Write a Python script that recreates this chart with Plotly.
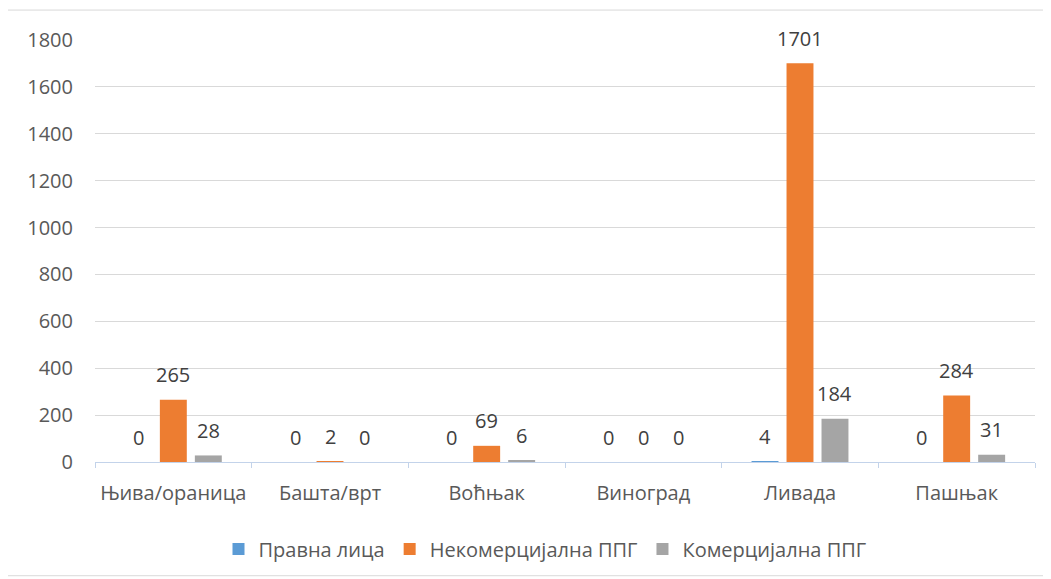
import plotly.graph_objects as go

categories = ["Њива/ораница", "Башта/врт", "Воћњак", "Виноград", "Ливада", "Пашњак"]
series_names = ["Правна лица", "Некомерцијална ППГ", "Комерцијална ППГ"]
pravna = [0, 0, 0, 0, 4, 0]
nekomer = [265, 2, 69, 0, 1701, 284]
komer = [28, 0, 6, 0, 184, 31]
colors = ["#5B9BD5", "#ED7D31", "#A5A5A5"]
y_ticks = [0, 200, 400, 600, 800, 1000, 1200, 1400, 1600, 1800]

FONT = "Open Sans"
FS = 20
OFF = 8  # default page body margin
W, H = 1051 - OFF, 579 - OFF
L, R, T, B = 95 - OFF, 16, 40 - OFF, 116
pw, ph = W - L - R, H - T - B

fig = go.Figure()
all_series = [pravna, nekomer, komer]
for name, vals, col in zip(series_names, all_series, colors):
    fig.add_trace(go.Bar(name=name, x=categories, y=vals, marker_color=col,
                         marker_line_width=0))

# data labels above bars
slot = pw / len(categories) * (1 - 0.33) / 3
for i, vals in enumerate(all_series):
    for c, v in zip(categories, vals):
        fig.add_annotation(x=c, y=v, text=str(v), showarrow=False,
                           xshift=(i - 1) * slot, yshift=25, yanchor="middle",
                           font=dict(family=FONT, size=FS, color="#404040"))

# outer chart border
fig.add_shape(type="rect", xref="paper", yref="paper",
              x0=(7 - 95) / pw, x1=(1049 - 95) / pw,
              y0=(463 - 577) / ph, y1=(463 - 10) / ph,
              line=dict(color="#D9D9D9", width=1), layer="below")

fig.update_layout(
    width=W, height=H,
    margin=dict(l=L, r=R, t=T, b=B),
    paper_bgcolor="white", plot_bgcolor="white",
    barmode="group", bargap=0.33, bargroupgap=0.23,
    font=dict(family=FONT, size=FS, color="#595959"),
    showlegend=True,
    legend=dict(orientation="h", x=(545 - 95) / pw, xanchor="center", y=-86 / ph, yanchor="middle",
                font=dict(family=FONT, size=FS, color="#595959"),
                itemwidth=30, traceorder="normal"),
)
fig.update_xaxes(showgrid=False, showline=True, linecolor="#C3D3EA", linewidth=1,
                 ticks="outside", tickson="boundaries", ticklen=5, tickcolor="#C3D3EA",
                 tickfont=dict(family=FONT, size=FS, color="#595959"),
                 ticklabelstandoff=13)
fig.update_yaxes(range=[0, 1800], tickvals=y_ticks, showgrid=True, gridcolor="#D9D9D9",
                 gridwidth=1, zeroline=False, showline=False,
                 tickfont=dict(family=FONT, size=FS, color="#595959"),
                 ticklabelstandoff=21)

fig.write_html("out.html")
